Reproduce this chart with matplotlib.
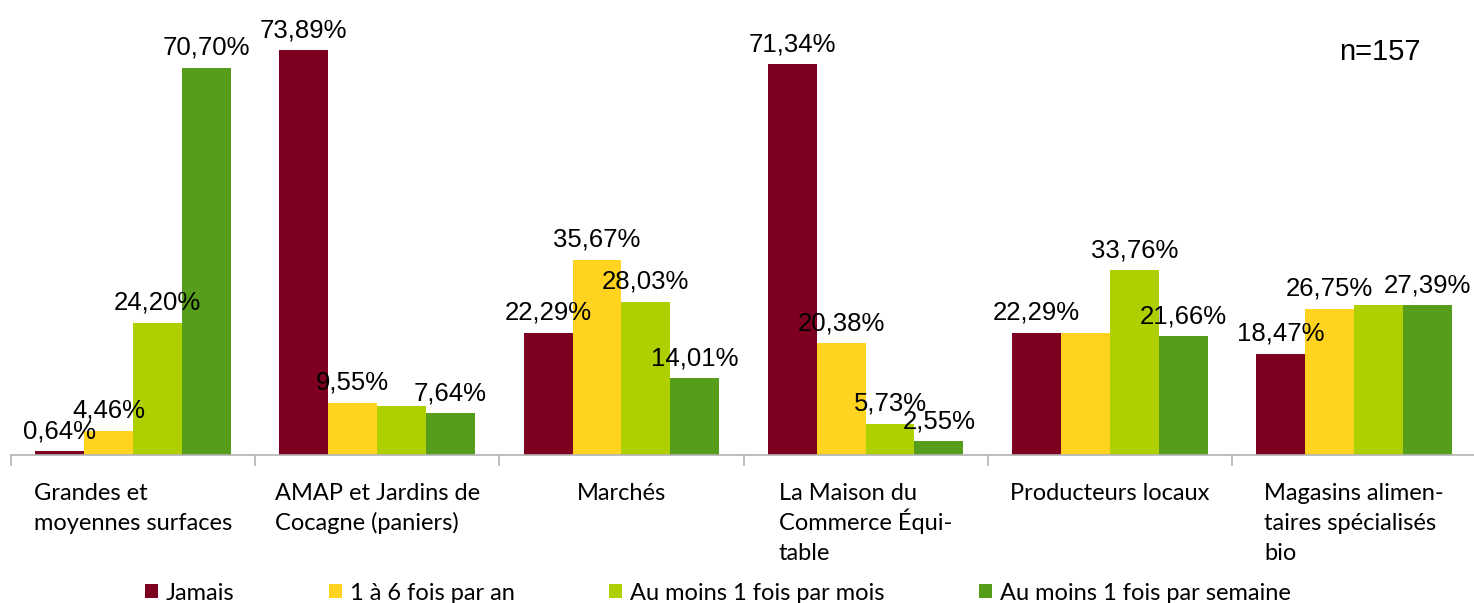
import matplotlib.pyplot as plt
from matplotlib.patches import Patch
import numpy as np

# Fréquence d'achat par lieu
lieux = [
    "Grandes et\nmoyennes surfaces",
    "AMAP et Jardins de\nCocagne (paniers)",
    "Marchés",
    "La Maison du\nCommerce Équi-\ntable",
    "Producteurs locaux",
    "Magasins alimen-\ntaires spécialisés\nbio",
]
frequences = ["Jamais", "1 à 6 fois par an", "Au moins 1 fois par mois", "Au moins 1 fois par semaine"]

jamais = [0.64, 73.89, 22.29, 71.34, 22.29, 18.47]
fois_par_an = [4.46, 9.55, 35.67, 20.38, 22.29, 26.75]
par_mois = [24.20, 8.92, 28.03, 5.73, 33.76, 27.39]
par_semaine = [70.70, 7.64, 14.01, 2.55, 21.66, 27.39]

# bars whose value label is shown (False = label hidden)
afficher = [
    [True, True, True, True, True, True],
    [True, True, True, True, False, True],
    [True, False, True, True, True, False],
    [True, True, True, True, True, True],
]

couleurs = ["#7e0021", "#ffd320", "#aecf00", "#579d1c"]
series = [jamais, fois_par_an, par_mois, par_semaine]

W, H = 1474, 603
fig = plt.figure(figsize=(W / 100, H / 100), dpi=100)
ax = fig.add_axes([10.75 / W, 1 - 455 / H, 1465.5 / W, 438 / H])

x = np.arange(len(lieux))
largeur = 0.2
for k, (vals, col) in enumerate(zip(series, couleurs)):
    pos = x + (k - 1.5) * largeur
    ax.bar(pos, vals, width=largeur, color=col, linewidth=0)
    for px, v, show in zip(pos, vals, afficher[k]):
        if show:
            ax.annotate(f"{v:.2f}%".replace(".", ","), (px, v), xytext=(0, 13),
                        textcoords="offset pixels", ha="center", va="baseline",
                        fontsize=18.5, family="Liberation Sans", color="#000000")

ax.set_xlim(-0.5, len(lieux) - 0.5)
ax.set_ylim(0, 80)
for s in ["top", "right", "left"]:
    ax.spines[s].set_visible(False)
ax.spines["bottom"].set_color("#b3b3b3")
ax.spines["bottom"].set_linewidth(1.2)
ax.set_yticks([])
ax.set_xticks(np.arange(len(lieux) + 1) - 0.5)
ax.set_xticklabels([])
ax.tick_params(axis="x", length=8, width=1.2, color="#b3b3b3")

# category names: block centred under the group, lines left-aligned, even line pitch
renderer = fig.canvas.get_renderer()
police_cat = dict(fontsize=17, family="Lato", color="#000000")
for i, nom in enumerate(lieux):
    lignes = nom.split("\n")
    largeurs = []
    for l in lignes:
        t = fig.text(0, 0, l, **police_cat)
        largeurs.append(t.get_window_extent(renderer).width)
        t.remove()
    bloc = max(largeurs)
    for j, l in enumerate(lignes):
        ax.annotate(l, (i, 0), xycoords=("data", "axes fraction"),
                    xytext=(-bloc / 2, -45 - 30 * j), textcoords="offset pixels",
                    ha="left", va="baseline", **police_cat)

fig.text(1421 / W, 1 - 60 / H, "n=157", ha="right", va="baseline",
         fontsize=21, family="Liberation Sans")

poignees = [Patch(facecolor=c, edgecolor="none") for c in couleurs]
fig.legend(poignees, frequences, ncol=4, loc="center", bbox_to_anchor=(0.487, 1 - 593 / H),
           frameon=False, prop={"family": "Lato", "size": 17},
           handlelength=0.55, handleheight=0.55, handletextpad=0.34, columnspacing=4.0)

fig.savefig("out.png", dpi=100)
